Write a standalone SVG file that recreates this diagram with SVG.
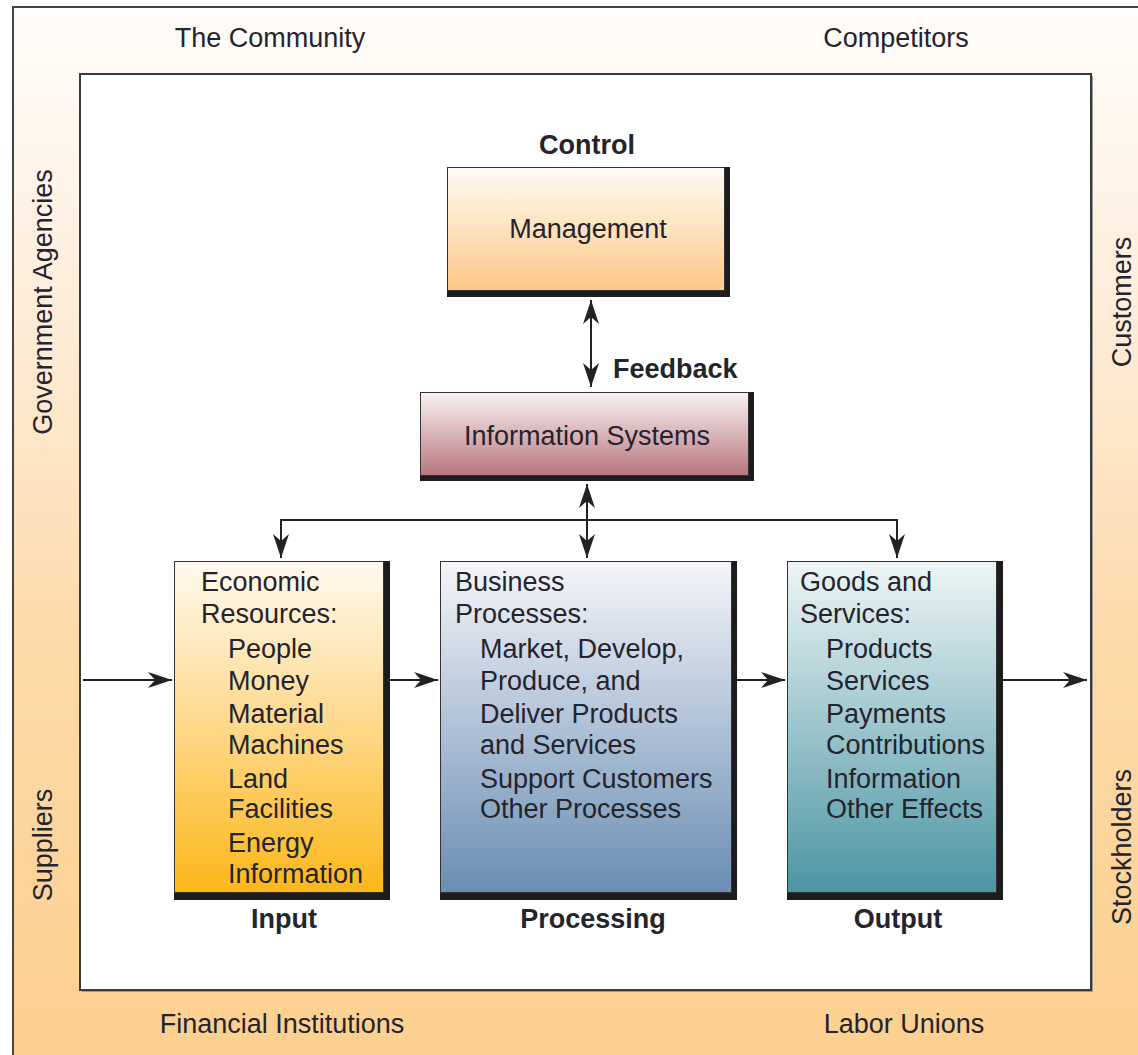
<svg xmlns="http://www.w3.org/2000/svg" width="1138" height="1055" viewBox="0 0 1138 1055">
<defs>
  <linearGradient id="gOuter" x1="0" y1="7" x2="0" y2="1055" gradientUnits="userSpaceOnUse">
    <stop offset="0" stop-color="#fffdfa"/>
    <stop offset="0.3" stop-color="#feecd8"/>
    <stop offset="0.6" stop-color="#fddaaa"/>
    <stop offset="1" stop-color="#fcd08e"/>
  </linearGradient>
  <linearGradient id="gMgmt" x1="0" y1="0" x2="0" y2="1">
    <stop offset="0" stop-color="#fffbf3"/>
    <stop offset="1" stop-color="#fcc888"/>
  </linearGradient>
  <linearGradient id="gIS" x1="0" y1="0" x2="0" y2="1">
    <stop offset="0" stop-color="#f9f2f2"/>
    <stop offset="1" stop-color="#b8767e"/>
  </linearGradient>
  <linearGradient id="gIn" x1="0" y1="0" x2="0" y2="1">
    <stop offset="0" stop-color="#fffaf0"/>
    <stop offset="0.5" stop-color="#fed88a"/>
    <stop offset="1" stop-color="#fcb718"/>
  </linearGradient>
  <linearGradient id="gProc" x1="0" y1="0" x2="0" y2="1">
    <stop offset="0" stop-color="#f5f5f9"/>
    <stop offset="1" stop-color="#6a8db4"/>
  </linearGradient>
  <linearGradient id="gOut" x1="0" y1="0" x2="0" y2="1">
    <stop offset="0" stop-color="#eef5f6"/>
    <stop offset="1" stop-color="#4b95a3"/>
  </linearGradient>
  <marker id="ah" viewBox="-25 -9 26 18" refX="0" refY="0" markerWidth="26" markerHeight="18" markerUnits="userSpaceOnUse" orient="auto-start-reverse">
    <path d="M0,0 L-24,-8 L-17,0 L-24,8 Z" fill="#222"/>
  </marker>
  <style>
    text { font-family: "Liberation Sans", Arial, sans-serif; font-size: 27px; fill: #24242e; }
    .b { font-weight: bold; }
    .c { text-anchor: middle; }
    .shadow { fill: #1c1c1c; }
    .box { stroke: #333; stroke-width: 1; }
    .conn { fill: none; stroke: #222; stroke-width: 2; }
  </style>
</defs>

<g id="environment">
  <rect x="13" y="7" width="1140" height="1060" fill="url(#gOuter)" stroke="#444" stroke-width="2"/>
  <rect x="82" y="76" width="1011" height="916" fill="#999"/>
  <rect x="80" y="74" width="1011" height="916" fill="#ffffff" stroke="#3a3a3a" stroke-width="2"/>
  <text class="c" x="270" y="47">The Community</text>
  <text class="c" x="896" y="47">Competitors</text>
  <text class="c" x="282" y="1033">Financial Institutions</text>
  <text class="c" x="904" y="1033">Labor Unions</text>
  <text class="c" transform="translate(52,302) rotate(-90)">Government Agencies</text>
  <text class="c" transform="translate(52,845) rotate(-90)">Suppliers</text>
  <text class="c" transform="translate(1131,302) rotate(-90)">Customers</text>
  <text class="c" transform="translate(1131,847) rotate(-90)">Stockholders</text>
</g>

<g id="management">
  <text class="b c" x="587" y="154">Control</text>
  <rect class="shadow" x="447" y="167" width="283" height="130"/>
  <rect class="box" x="447.5" y="167.5" width="277" height="123" fill="url(#gMgmt)"/>
  <text class="c" x="588" y="238">Management</text>
</g>

<g id="information-systems">
  <rect class="shadow" x="420" y="392" width="334" height="89"/>
  <rect class="box" x="420.5" y="392.5" width="328" height="83" fill="url(#gIS)"/>
  <text class="c" x="587" y="445">Information Systems</text>
</g>

<g id="input">
  <rect class="shadow" x="174" y="561" width="216" height="339"/>
  <rect class="box" x="174.5" y="561.5" width="209" height="331" fill="url(#gIn)"/>
  <text x="201" y="591">Economic</text>
  <text x="201" y="623">Resources:</text>
  <text x="228" y="658">People</text>
  <text x="228" y="690">Money</text>
  <text x="228" y="723">Material</text>
  <text x="228" y="754">Machines</text>
  <text x="228" y="788">Land</text>
  <text x="228" y="818">Facilities</text>
  <text x="228" y="852">Energy</text>
  <text x="228" y="883">Information</text>
  <text class="b c" x="284" y="928">Input</text>
</g>

<g id="processing">
  <rect class="shadow" x="440" y="561" width="297" height="339"/>
  <rect class="box" x="440.5" y="561.5" width="291" height="331" fill="url(#gProc)"/>
  <text x="455" y="591">Business</text>
  <text x="455" y="623">Processes:</text>
  <text x="480" y="658">Market, Develop,</text>
  <text x="480" y="690">Produce, and</text>
  <text x="480" y="723">Deliver Products</text>
  <text x="480" y="754">and Services</text>
  <text x="480" y="788">Support Customers</text>
  <text x="480" y="818">Other Processes</text>
  <text class="b c" x="593" y="928">Processing</text>
</g>

<g id="output">
  <rect class="shadow" x="787" y="561" width="216" height="339"/>
  <rect class="box" x="787.5" y="561.5" width="209" height="331" fill="url(#gOut)"/>
  <text x="800" y="591">Goods and</text>
  <text x="800" y="623">Services:</text>
  <text x="826" y="658">Products</text>
  <text x="826" y="690">Services</text>
  <text x="826" y="723">Payments</text>
  <text x="826" y="754">Contributions</text>
  <text x="826" y="788">Information</text>
  <text x="826" y="818">Other Effects</text>
  <text class="b c" x="898" y="928">Output</text>
</g>

<g id="connectors">
  <line class="conn" x1="591" y1="300" x2="591" y2="387" marker-start="url(#ah)" marker-end="url(#ah)"/>
  <text class="b" x="613" y="378">Feedback</text>
  <line class="conn" x1="587" y1="484" x2="587" y2="558" marker-start="url(#ah)" marker-end="url(#ah)"/>
  <path class="conn" d="M281,558 L281,520 L897,520 L897,558" marker-start="url(#ah)" marker-end="url(#ah)"/>
  <line class="conn" x1="83" y1="680" x2="172" y2="680" marker-end="url(#ah)"/>
  <line class="conn" x1="390" y1="680" x2="438" y2="680" marker-end="url(#ah)"/>
  <line class="conn" x1="737" y1="680" x2="785" y2="680" marker-end="url(#ah)"/>
  <line class="conn" x1="1003" y1="680" x2="1087" y2="680" marker-end="url(#ah)"/>
</g>
</svg>
